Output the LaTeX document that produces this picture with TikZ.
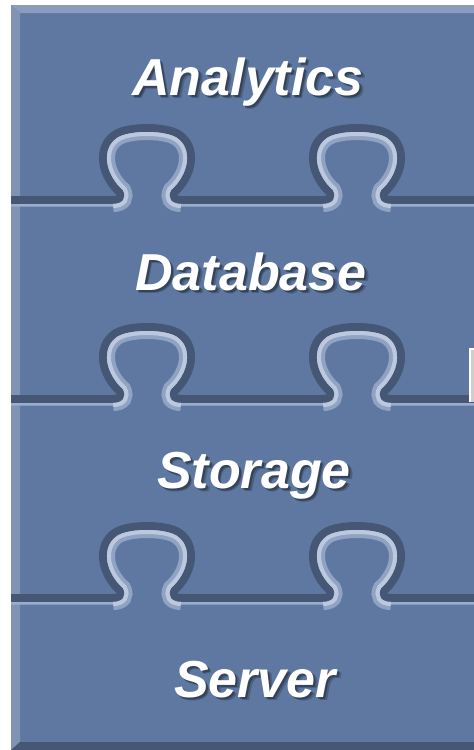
\documentclass[tikz,border=0pt]{standalone}
\usepackage{fontspec}
\setmainfont{Liberation Sans}
\usepackage{xcolor}

\definecolor{pieceblue}{RGB}{94,120,161}
\definecolor{bevtop}{RGB}{138,157,190}
\definecolor{bevleft}{RGB}{128,147,181}
\definecolor{bevdark}{RGB}{69,87,117}
\definecolor{seamlight}{RGB}{155,174,205}
\definecolor{ringmid}{RGB}{145,163,194}
\definecolor{ringlight}{RGB}{188,200,222}
\definecolor{sidegray}{RGB}{206,206,204}

% one puzzle tab, centre #1, seam height #2
\newcommand{\tabpath}[2]{-- ({#1-34},#2)
  .. controls ({#1-24},#2) and ({#1-20},{#2-6}) .. ({#1-24},{#2-14})
  .. controls ({#1-42},{#2-30}) and ({#1-46},{#2-55}) .. ({#1-30},{#2-66})
  .. controls ({#1-18},{#2-74}) and ({#1+18},{#2-74}) .. ({#1+30},{#2-66})
  .. controls ({#1+46},{#2-55}) and ({#1+42},{#2-30}) .. ({#1+24},{#2-14})
  .. controls ({#1+20},{#2-6}) and ({#1+24},#2) .. ({#1+34},#2)}
\newcommand{\seampath}[1]{(11,#1) \tabpath{147}{#1} \tabpath{357}{#1} -- (480,#1)}

\begin{document}
\begin{tikzpicture}[x=1pt,y=-1pt,
  layertext/.style={font=\fontsize{52}{60}\selectfont\bfseries\itshape, text=white, anchor=base},
  layershadow/.style={layertext, text=black, opacity=#1}]
\useasboundingbox (0,0) rectangle (474,750);
\clip (0,0) rectangle (474,750);
% body of the stack
\fill[pieceblue] (11,5) rectangle (480,750);
\fill[bevtop] (11,5) -- (480,5) -- (480,13) -- (20,13) -- cycle;
\fill[bevleft] (11,5) -- (20,13) -- (20,742) -- (11,750) -- cycle;
\fill[bevdark] (11,750) -- (20,742) -- (480,742) -- (480,750) -- cycle;
% seams between the layers
\foreach \y in {204,403,602} {
  \begin{scope}
    \clip \seampath{\y} -- (480,{\y-150}) -- (11,{\y-150}) -- cycle;
    \draw[bevdark, line width=16] \seampath{\y};
  \end{scope}
  \begin{scope}
    \clip \seampath{\y} -- (480,{\y+150}) -- (11,{\y+150}) -- cycle;
    \draw[seamlight, line width=5] \seampath{\y};
    \foreach \cx in {147,357} {
      \draw[ringmid, line width=16] ({\cx-34},\y) \tabpath{\cx}{\y};
      \draw[ringlight, line width=8] ({\cx-34},\y) \tabpath{\cx}{\y};
    }
  \end{scope}
}
% piece of the next block at the right
\fill[sidegray] (469,348) rectangle (480,402);
\draw[white, line width=1.5] (469.75,402) -- (469.75,348.75) -- (480,348.75);
% layer names
\foreach \txt/\x/\y in {Analytics/248/95, Database/251/290, Storage/254/488, Server/255/697} {
  \node[layershadow=0.2] (\txt-s2) at ({\x+3.5},{\y+3.5}) {\txt};
  \node[layershadow=0.3] (\txt-s1) at ({\x+2},{\y+2}) {\txt};
  \node[layertext] (\txt) at (\x,\y) {\txt};
}
\end{tikzpicture}
\end{document}
